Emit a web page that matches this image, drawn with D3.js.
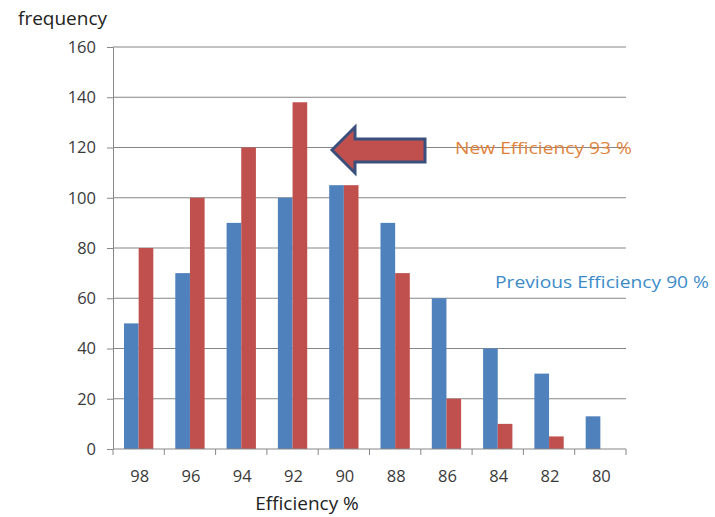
<!DOCTYPE html>
<html>
<head>
<meta charset="utf-8">
<script src="https://cdn.jsdelivr.net/npm/d3@7"></script>
<style>
  html, body { margin: 0; padding: 0; background: #fff; }
  svg { display: block; font-family: "Open Sans", "Noto Sans", sans-serif; }
</style>
</head>
<body>
<svg id="chart" width="715" height="517"></svg>
<script>
// Efficiency classes along the x axis
const categories = ["98", "96", "94", "92", "90", "88", "86", "84", "82", "80"];
// Frequency per class: previous process (blue) and new process (red)
const previousValues = [50, 70, 90, 100, 105, 90, 60, 40, 30, 13];
const newValues = [80, 100, 120, 138, 105, 70, 20, 10, 5, 0];
const yTicks = [0, 20, 40, 60, 80, 100, 120, 140, 160];
const seriesNames = ["Previous", "New"];
const seriesColors = ["#4f81bd", "#c0504d"];

const svg = d3.select("#chart");
const plotLeft = 113, plotRight = 626, plotTop = 47, plotBottom = 449;

const y = d3.scaleLinear().domain([0, 160]).range([plotBottom, plotTop]);
const x0 = d3.scaleBand().domain(categories).range([plotLeft, plotRight])
  .paddingInner(1.5 / 3.5).paddingOuter(0.75 / 3.5);
const x1 = d3.scaleBand().domain(seriesNames).range([0, x0.bandwidth()]);

// Horizontal gridlines
svg.append("g").selectAll("line").data(yTicks.filter(d => d > 0)).join("line")
  .attr("x1", plotLeft).attr("x2", plotRight)
  .attr("y1", d => y(d)).attr("y2", d => y(d))
  .attr("stroke", "#878787").attr("stroke-width", 1);

// Bars
const rows = categories.map((c, i) => ({ c, vals: [previousValues[i], newValues[i]] }));
svg.append("g").selectAll("g").data(rows).join("g")
  .attr("transform", d => `translate(${x0(d.c)},0)`)
  .selectAll("rect").data(d => d.vals.map((v, k) => ({ v, k })).filter(e => e.v > 0)).join("rect")
  .attr("x", e => x1(seriesNames[e.k]))
  .attr("width", x1.bandwidth())
  .attr("y", e => y(e.v))
  .attr("height", e => y(0) - y(e.v))
  .attr("fill", e => seriesColors[e.k]);

// Y axis
const yAxis = d3.axisLeft(y).tickValues(yTicks).tickSize(6).tickPadding(11);
const gy = svg.append("g").attr("transform", `translate(${plotLeft},0)`).call(yAxis);
gy.select(".domain").attr("stroke", "#878787");
gy.selectAll(".tick line").attr("stroke", "#878787");
gy.selectAll(".tick text").attr("font-size", 16.5).attr("fill", "#3a3a3a")
  .attr("font-family", "'Open Sans', sans-serif");

// X axis with ticks between categories
const xAxis = svg.append("g").attr("transform", `translate(0,${plotBottom})`);
xAxis.append("line").attr("x1", plotLeft).attr("x2", plotRight).attr("stroke", "#878787");
const step = x0.step();
const edges = d3.range(categories.length + 1).map(i => plotLeft + i * step);
xAxis.selectAll("line.tk").data(edges).join("line").attr("class", "tk")
  .attr("x1", d => d).attr("x2", d => d).attr("y1", 0).attr("y2", 6)
  .attr("stroke", "#878787");
xAxis.selectAll("text").data(categories).join("text")
  .attr("x", d => x0(d) + x0.bandwidth() / 2 + 1)
  .attr("y", 33)
  .attr("text-anchor", "middle")
  .attr("font-size", 16.5).attr("fill", "#3a3a3a")
  .text(d => d);

// Axis titles
svg.append("text").attr("x", 18).attr("y", 25)
  .attr("font-size", 19).attr("fill", "#222").text("frequency");
svg.append("text").attr("x", 307).attr("y", 510).attr("text-anchor", "middle")
  .attr("font-size", 19).attr("fill", "#222").text("Efficiency %");

// Arrow pointing at the new peak
const arrow = [[332, 150], [355, 127], [355, 139], [425, 139], [425, 162], [355, 162], [355, 173]];
svg.append("path").attr("d", d3.line()(arrow) + "Z")
  .attr("fill", "#c0504d").attr("stroke", "#3a4f7c").attr("stroke-width", 3)
  .attr("stroke-linejoin", "miter");

// Annotations
svg.append("text").attr("x", 455).attr("y", 154)
  .attr("font-size", 17).attr("fill", "#e0843c")
  .attr("textLength", 177).attr("lengthAdjust", "spacingAndGlyphs")
  .text("New Efficiency 93 %");
svg.append("text").attr("x", 495).attr("y", 288)
  .attr("font-size", 17).attr("fill", "#3c8bc8")
  .attr("textLength", 214).attr("lengthAdjust", "spacingAndGlyphs")
  .text("Previous Efficiency 90 %");
</script>
</body>
</html>
